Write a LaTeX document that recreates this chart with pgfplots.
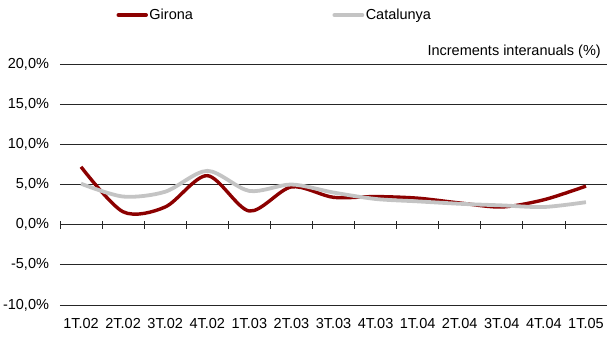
\documentclass[border=0pt]{standalone}
\usepackage{pgfplots}
\pgfplotsset{compat=1.18}
\usepackage{fontspec}
\setmainfont{Liberation Sans}
\definecolor{girona}{RGB}{140,0,0}
\definecolor{catal}{RGB}{196,196,196}
\begin{document}
\fontsize{14.5}{17}\selectfont
\begin{tikzpicture}[x=1pt,y=1pt]
\path[use as bounding box] (0,0) rectangle (607,338);
\begin{axis}[
  at={(60pt,33pt)}, anchor=south west,
  scale only axis, width=547pt, height=241pt,
  xmin=-0.5, xmax=12.5, ymin=-10, ymax=20,
  axis line style={draw=none},
  xtick={0,...,12},
  xticklabels={1T.02,2T.02,3T.02,4T.02,1T.03,2T.03,3T.03,4T.03,1T.04,2T.04,3T.04,4T.04,1T.05},
  xtick style={draw=none},
  xticklabel style={yshift=-8pt, font=\fontsize{14.5}{17}\selectfont},
  ytick={-10,-5,0,5,10,15,20},
  yticklabels={{-10,0\%},{-5,0\%},{0,0\%},{5,0\%},{10,0\%},{15,0\%},{20,0\%}},
  ytick style={draw=none},
  yticklabel style={xshift=-6pt, font=\fontsize{14.5}{17}\selectfont},
  ymajorgrids, grid style={black!85, line width=0.8pt},
  legend columns=2,
  legend style={draw=none, fill=none, inner sep=0pt, anchor=west,
    at={(axis description cs:0.103,1.203)}, font=\fontsize{14.5}{17}\selectfont,
    /tikz/every even column/.append style={column sep=138pt},
    nodes={inner sep=1.5pt}},
  legend cell align=left,
  legend image code/.code={\draw[#1, line cap=round] (0pt,0pt) -- (28pt,0pt);},
  clip=false,
]
\addplot[girona, line width=3.4pt, smooth, tension=0.5] coordinates {
(0,7.2) (1,1.6) (2,2.2) (3,6.1) (4,1.7) (5,4.7) (6,3.4) (7,3.5) (8,3.3) (9,2.7) (10,2.2) (11,3.1) (12,4.8)};
\addlegendentry{Girona}
\addplot[catal, line width=3.8pt, smooth, tension=0.5] coordinates {
(0,5.1) (1,3.5) (2,4.1) (3,6.7) (4,4.2) (5,5.0) (6,4.0) (7,3.2) (8,2.9) (9,2.6) (10,2.4) (11,2.2) (12,2.8)};
\addlegendentry{Catalunya}
\pgfplotsinvokeforeach{-0.5,0.5,...,12.5}{
  \draw[black!85, line width=0.8pt] (axis cs:#1,-0.5) -- (axis cs:#1,0.5);
}
\node[anchor=south east, inner sep=0pt] at (axis cs:12.5,20) [yshift=5pt, xshift=-6pt] {Increments interanuals (\%)};
\end{axis}
\end{tikzpicture}
\end{document}
